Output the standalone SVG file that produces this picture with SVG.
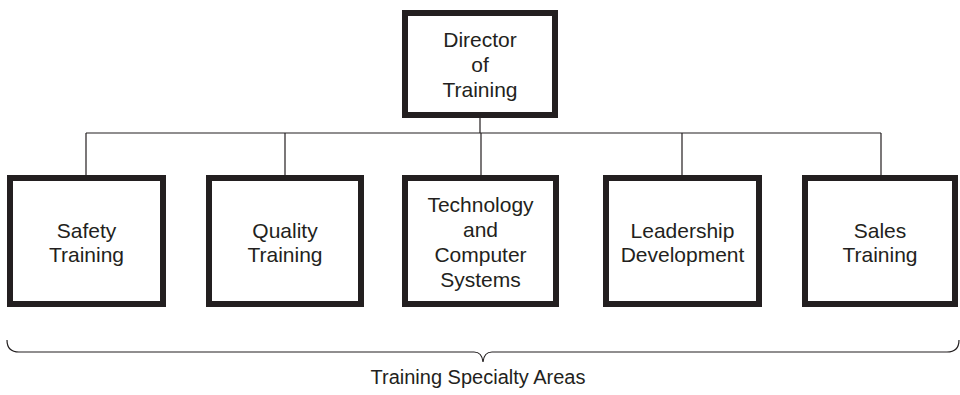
<svg xmlns="http://www.w3.org/2000/svg" width="960" height="395" viewBox="0 0 960 395">
<style>
.box{fill:#fff;stroke:#231f20;stroke-width:6}
.t{font-family:"Liberation Sans",Arial,sans-serif;font-size:21px;fill:#231f20;text-anchor:middle}
.c{fill:none;stroke:#231f20;stroke-width:1.2}
</style>
<rect width="960" height="395" fill="#fff"/>
<g id="connectors">
<path class="c" d="M480,118 V133 M86,133 H881 M86,133 V175 M285,133 V175 M481,133 V175 M682,133 V175 M881,133 V175"/>
</g>
<g id="director">
<rect class="box" x="405" y="13" width="150" height="102"/>
<text class="t" x="480" y="47">Director</text>
<text class="t" x="480" y="72">of</text>
<text class="t" x="480" y="97">Training</text>
</g>
<g id="safety">
<rect class="box" x="10" y="178" width="153" height="126"/>
<text class="t" x="86.5" y="238">Safety</text>
<text class="t" x="86.5" y="262">Training</text>
</g>
<g id="quality">
<rect class="box" x="209" y="178" width="152" height="126"/>
<text class="t" x="285" y="238">Quality</text>
<text class="t" x="285" y="262">Training</text>
</g>
<g id="technology">
<rect class="box" x="405" y="178" width="151" height="126"/>
<text class="t" x="480.5" y="212">Technology</text>
<text class="t" x="480.5" y="237">and</text>
<text class="t" x="480.5" y="262">Computer</text>
<text class="t" x="480.5" y="287">Systems</text>
</g>
<g id="leadership">
<rect class="box" x="606" y="178" width="153" height="126"/>
<text class="t" x="682.5" y="238">Leadership</text>
<text class="t" x="682.5" y="262">Development</text>
</g>
<g id="sales">
<rect class="box" x="805" y="178" width="150" height="126"/>
<text class="t" x="880" y="238">Sales</text>
<text class="t" x="880" y="262">Training</text>
</g>
<g id="brace">
<path class="c" d="M7,340 Q7,352 19,352 L474,352 Q482,352 483,362 Q484,352 492,352 L947,352 Q959,352 959,340"/>
<text class="t" x="478" y="384" style="font-size:20px">Training Specialty Areas</text>
</g>
</svg>
